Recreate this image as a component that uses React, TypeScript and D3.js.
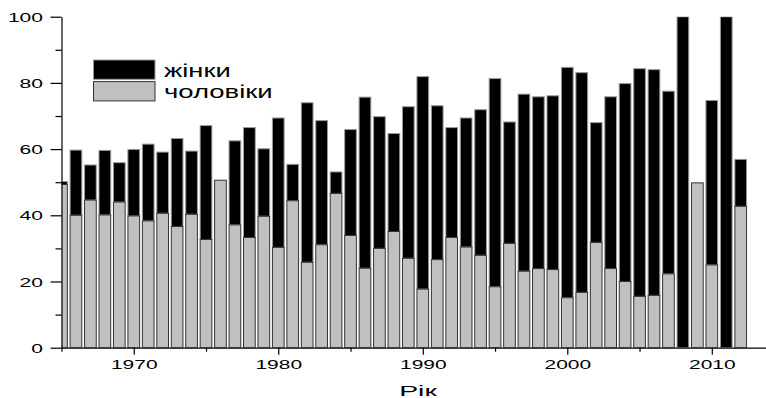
import React, { useEffect, useRef } from 'react';
import * as d3 from 'd3';

const years = d3.range(1965, 2013);
// чоловіки (нижня частина стовпчика)
const men = [
	49.3, 40.0, 44.6, 40.1, 44.0, 39.8, 38.3, 40.6, 36.6, 40.3,
	32.7, 50.6, 37.1, 33.3, 39.7, 30.3, 44.4, 25.8, 31.1, 46.6,
	33.9, 24.0, 30.0, 35.1, 27.0, 17.7, 26.6, 33.3, 30.4, 27.9,
	18.4, 31.5, 23.1, 23.9, 23.6, 15.1, 16.7, 31.8, 23.9, 20.0,
	15.5, 15.8, 22.3, 0, 49.8, 25.0, 0, 42.7
];
// жінки (верхня частина)
const women = [
	0.9, 19.7, 10.6, 19.5, 11.9, 20.1, 23.2, 18.5, 26.6, 19.1,
	34.4, 0, 25.4, 33.2, 20.4, 39.1, 11.0, 48.2, 37.5, 6.5,
	32.0, 51.7, 39.8, 29.6, 45.8, 64.2, 46.5, 33.2, 39.0, 44.0,
	62.9, 36.7, 53.5, 51.9, 52.5, 69.6, 66.4, 36.2, 51.9, 59.8,
	68.8, 68.2, 55.2, 100, 0, 49.7, 100, 14.2
];
const yMajor = [0, 20, 40, 60, 80, 100];
const yMinor = [10, 30, 50, 70, 90];
const xMajor = [1970, 1980, 1990, 2000, 2010];
const xMinor = [1965, 1975, 1985, 1995, 2005];
const legendItems = [
	{ label: 'жінки', fill: '#000', stroke: '#999', width: 66.7 },
	{ label: 'чоловіки', fill: '#c0c0c0', stroke: '#333', width: 108.7 }
];

const W = 766, H = 398;
const FONT = '"Liberation Sans", Arial, sans-serif';

export default function App()
{
	const ref = useRef<SVGSVGElement>(null);

	useEffect(() =>
	{
		const svg = d3.select(ref.current);
		svg.selectAll('*').remove();

		const x = d3.scaleLinear().domain([1965, 2013.75]).range([61.5, 766]);
		const y = d3.scaleLinear().domain([0, 100]).range([347.7, 16.7]);
		const bw = 11.7;

		svg.append('clipPath').attr('id', 'plot')
			.append('rect')
			.attr('x', x(1965)).attr('y', y(100))
			.attr('width', W - x(1965)).attr('height', y(0) - y(100));

		const bars = svg.append('g').attr('clip-path', 'url(#plot)');
		const rows = years.map((yr, i) => ({ yr, m: men[i], w: women[i] }));

		// - women on top
		bars.selectAll('rect.w')
			.data(rows.filter(d => d.w > 0))
			.enter().append('rect')
			.attr('x', d => x(d.yr) - bw / 2)
			.attr('y', d => y(d.m + d.w))
			.attr('width', bw)
			.attr('height', d => y(d.m) - y(d.m + d.w))
			.attr('fill', '#000')
			.attr('stroke', '#999')
			.attr('stroke-width', 1);

		bars.selectAll('rect.m')
			.data(rows.filter(d => d.m > 0))
			.enter().append('rect')
			.attr('x', d => x(d.yr) - bw / 2)
			.attr('y', d => y(d.m))
			.attr('width', bw)
			.attr('height', d => y(0) - y(d.m))
			.attr('fill', '#c0c0c0')
			.attr('stroke', '#333')
			.attr('stroke-width', 1);

		const styleAxis = (g: any, size: number) =>
		{
			g.attr('font-family', FONT).attr('font-size', size);
			g.selectAll('path, line').attr('stroke', '#000').attr('stroke-width', 1.2);
			g.selectAll('text').attr('fill', '#000');
		};

		// y axis
		const gy = svg.append('g').attr('transform', `translate(${x(1965)},0)`);
		gy.call(d3.axisLeft(y).tickValues(yMajor).tickSize(11).tickSizeOuter(0).tickPadding(7.5));
		styleAxis(gy, 13);
		gy.selectAll('text')
			.attr('dy', null).attr('dominant-baseline', null)
			.attr('y', 4.6)
			.attr('textLength', (d: any) => String(d).length * 11.7)
			.attr('lengthAdjust', 'spacingAndGlyphs');
		const gy2 = svg.append('g').attr('transform', `translate(${x(1965)},0)`);
		gy2.call(d3.axisLeft(y).tickValues(yMinor).tickSize(6).tickSizeOuter(0).tickFormat(() => ''));
		styleAxis(gy2, 13);
		gy2.select('.domain').remove();

		// x axis
		const gx = svg.append('g').attr('transform', `translate(0,${y(0)})`);
		gx.call(d3.axisBottom(x).tickValues(xMajor).tickSize(7).tickSizeOuter(0).tickFormat(d3.format('d')));
		styleAxis(gx, 13.5);
		gx.selectAll('text')
			.attr('dy', null)
			.attr('y', 21.6)
			.attr('textLength', 46.6)
			.attr('lengthAdjust', 'spacingAndGlyphs');
		const gx2 = svg.append('g').attr('transform', `translate(0,${y(0)})`);
		gx2.call(d3.axisBottom(x).tickValues(xMinor).tickSize(4).tickSizeOuter(0).tickFormat(() => ''));
		styleAxis(gx2, 13);
		gx2.select('.domain').remove();

		svg.append('text')
			.attr('x', 418).attr('y', 395.5)
			.attr('text-anchor', 'middle')
			.attr('font-family', FONT).attr('font-size', 15.5)
			.attr('textLength', 37.7).attr('lengthAdjust', 'spacingAndGlyphs')
			.text('Рік');

		// legend
		const lg = svg.append('g');
		legendItems.forEach((it, i) =>
		{
			const top = 60 + i * 21.6;
			lg.append('rect')
				.attr('x', 93.5).attr('y', top)
				.attr('width', 61.5).attr('height', 19.3)
				.attr('fill', it.fill).attr('stroke', it.stroke).attr('stroke-width', 1);
			lg.append('text')
				.attr('x', 164).attr('y', top + 16.7)
				.attr('font-family', FONT).attr('font-size', 19)
				.attr('textLength', it.width).attr('lengthAdjust', 'spacingAndGlyphs')
				.text(it.label);
		});
	}, []);

	return (
		<svg ref={ref} width={W} height={H} style={{ position: 'absolute', left: 0, top: 0, background: '#fff' }} />
	);
}
